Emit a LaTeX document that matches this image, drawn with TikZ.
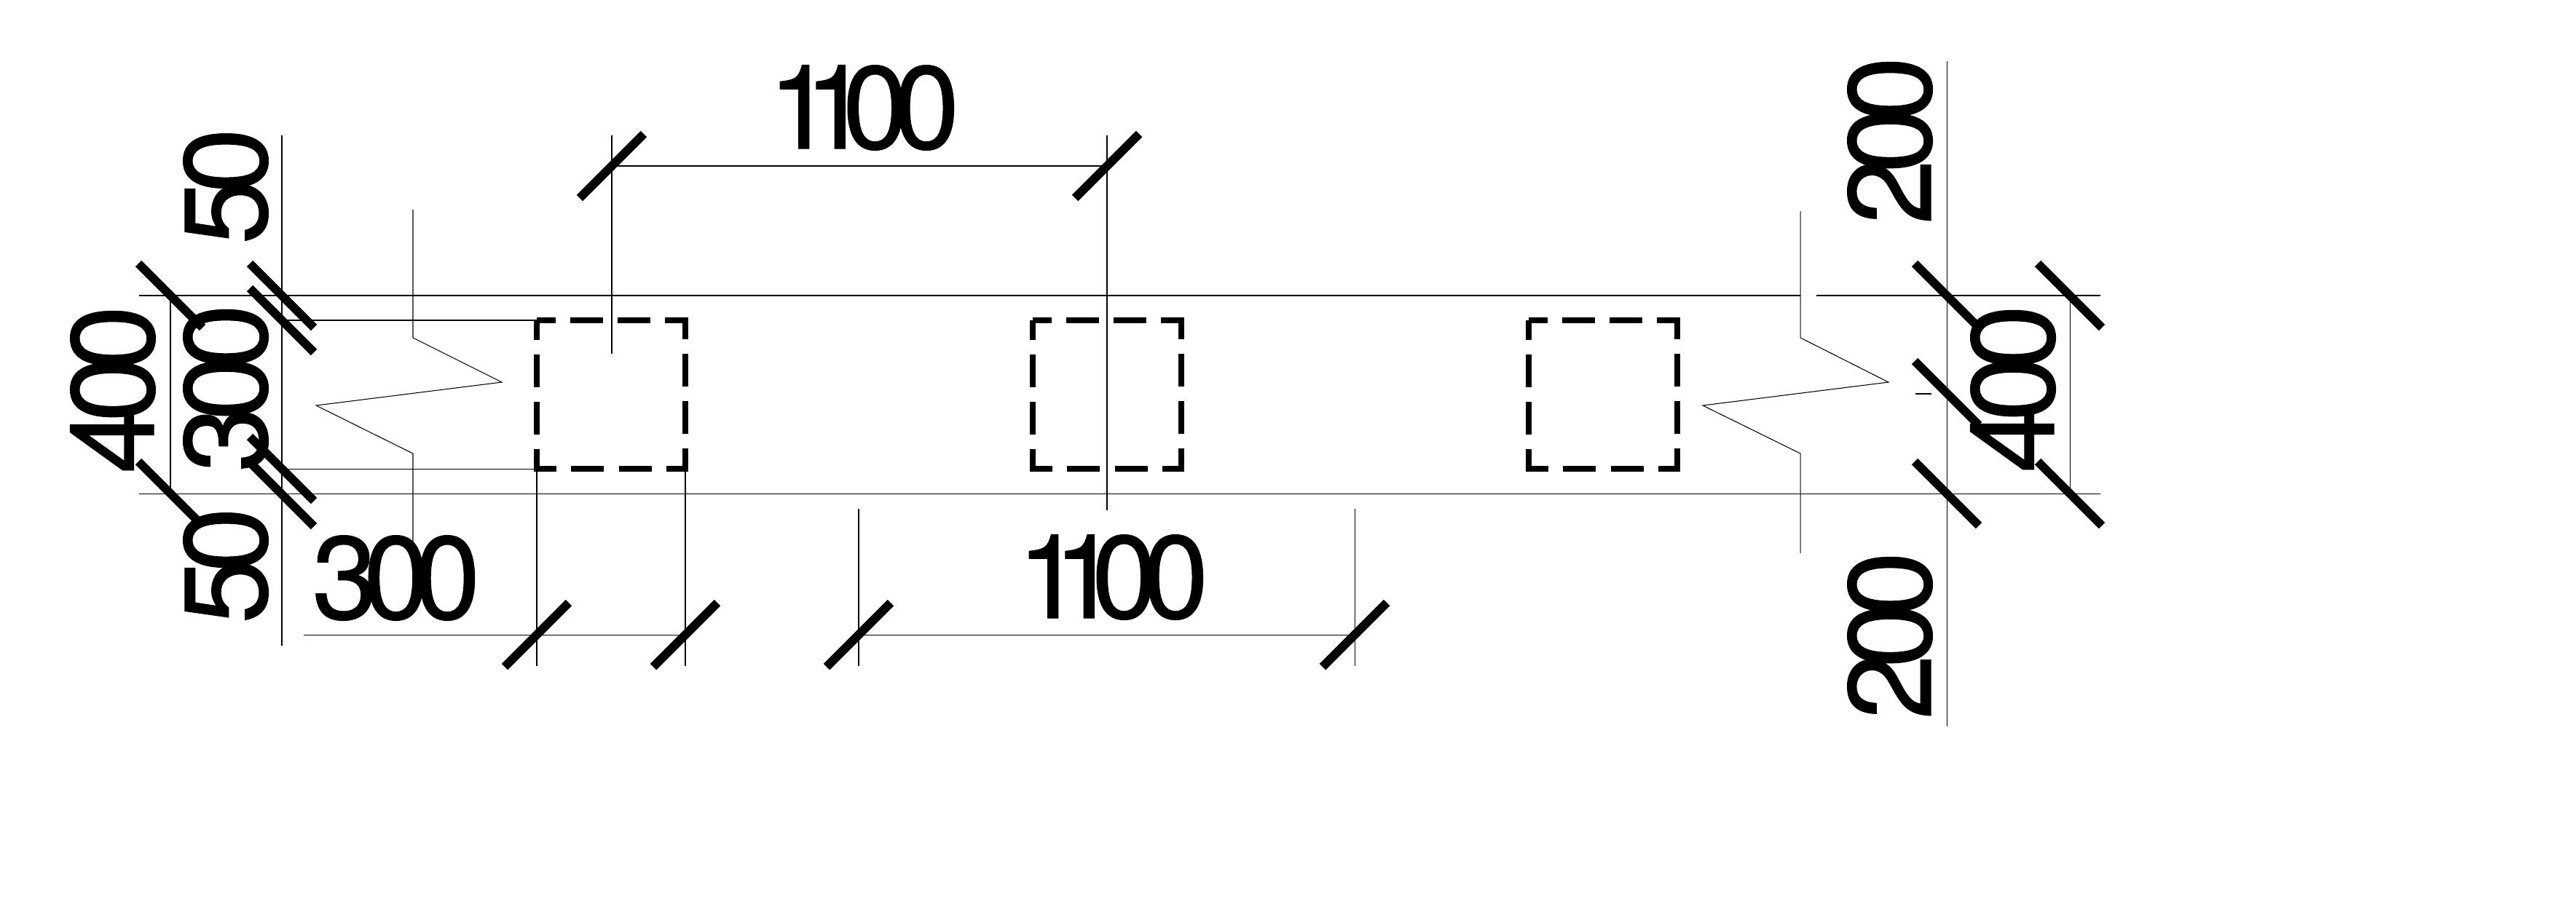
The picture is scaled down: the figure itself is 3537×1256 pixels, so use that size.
\documentclass[tikz,border=0pt]{standalone}
\usepackage{fontspec}
\newfontfamily\dimfont[LetterSpace=-12,FakeBold=.6]{TeX Gyre Heros}
\newcommand{\onehundreds}{1\kern-.25em 1\kern-.23em 00}
\tikzset{
  thinline/.style={line width=.3pt},
  dimtick/.style={line width=3.4pt},
  hiddenbox/.style={line width=2.4pt,dash pattern=on 15.4pt off 5.7pt on 12.8pt off 5.7pt on 12.8pt off 5.7pt,dash phase=7.7pt},
  dimlabel/.style={inner sep=0pt,font=\dimfont\fontsize{46}{46}\selectfont},
  sidelabel/.style={dimlabel,rotate=90}
}
\begin{document}
\begin{tikzpicture}[x=.01cm,y=-.01cm]
  \useasboundingbox (0,0) rectangle (3537,1256);
  % beam edges
  \begin{scope}[thinline]
    \draw (191,406) -- (2472,406);
    \draw (2494,406) -- (2884,406);
    \draw (191,678) -- (2884,678);
    % break lines
    \draw (567,288) -- (567,464) -- (689,525) -- (434,557) -- (567,623) -- (567,760);
    \draw (2472,290) -- (2472,464) -- (2593,525) -- (2338,557) -- (2472,623) -- (2472,760);
    % extension lines
    \draw (840,186) -- (840,486);
    \draw (1520,186) -- (1520,701);
    \draw (737,644) -- (737,915);
    \draw (941,644) -- (941,915);
    \draw (1179,699) -- (1179,915);
    \draw (1860,699) -- (1860,915);
    \draw (390,440) -- (737,440);
    \draw (390,644) -- (737,644);
    \draw (2630,541) -- (2652,541);
    % dimension lines
    \draw (840,228) -- (1520,228);
    \draw (417,872) -- (941,872);
    \draw (1179,872) -- (1860,872);
    \draw (234,406) -- (234,678);
    \draw (387,186) -- (387,887);
    \draw (2673,84) -- (2673,998);
    \draw (2842,406) -- (2842,678);
  \end{scope}
  % columns
  \foreach \x in {737,1418,2099}
    \draw[hiddenbox] (\x,440) rectangle (\x+204,644);
  % ticks
  \foreach \x/\y in {840/228,1520/228,737/872,941/872,1179/872,1860/872}
    \draw[dimtick] (\x,\y) ++(-44,44) -- ++(88,-88);
  \foreach \x/\y in {234/406,234/678,387/406,387/440,387/644,387/679,2673/406,2673/540,2673/678,2842/406,2842/678}
    \draw[dimtick] (\x,\y) ++(-44,-44) -- ++(88,88);
  % labels
  \node[dimlabel] (topspan) at (1186,148) {\onehundreds};
  \node[dimlabel] (bottomspan) at (1528,793) {\onehundreds};
  \node[dimlabel] (columnwidth) at (544,794) {300};
  \node[sidelabel] (coverupper) at (310,256) {50};
  \node[sidelabel] (coverlower) at (310,777) {50};
  \node[sidelabel] (columnheight) at (310,533) {300};
  \node[sidelabel] (beamleft) at (155,535) {400};
  \node[sidelabel] (upperright) at (2595,193) {200};
  \node[sidelabel] (lowerright) at (2595,873) {200};
  \node[sidelabel] (beamright) at (2764,534) {400};
\end{tikzpicture}
\end{document}
